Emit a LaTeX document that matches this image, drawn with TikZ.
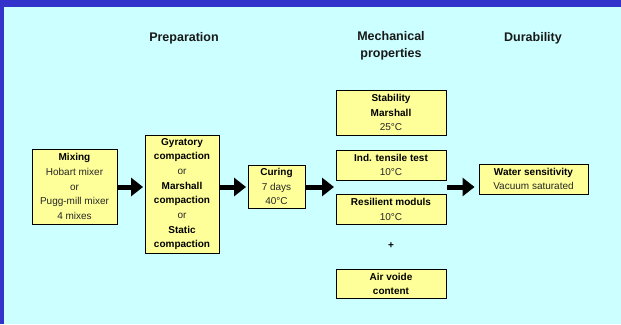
\documentclass[tikz,border=0pt]{standalone}
\usepackage{fontspec}
\setmainfont{Liberation Sans}
\usetikzlibrary{arrows.meta}
\definecolor{bgcyan}{HTML}{CCFFFF}
\definecolor{frameblue}{HTML}{3333CC}
\definecolor{boxyellow}{HTML}{FFFF99}
\definecolor{txtgray}{HTML}{262626}
\tikzset{
  box/.style={draw=black, line width=0.9pt, fill=boxyellow, align=center,
    inner sep=0pt, font=\fontsize{10}{14.7}\selectfont, text=txtgray},
  header/.style={font=\fontsize{12.5}{17}\selectfont\bfseries, align=center, text=black!90},
  bigarrow/.style={line width=5pt, -{Triangle[length=12pt,width=18pt]}, black}
}
\newcommand{\bl}[1]{\textbf{\color{black}#1}}
\begin{document}
\begin{tikzpicture}[x=1pt,y=-1pt]
\useasboundingbox (0,0) rectangle (621,324);
\fill[bgcyan] (0,0) rectangle (621,324);
\fill[frameblue] (0,0) rectangle (621,7);
\fill[frameblue] (0,0) rectangle (4,324);

\node[header] (hprep) at (184,38) {Preparation};
\node[header] (hmech) at (391,46) {Mechanical\\properties};
\node[header] (hdur) at (533,38) {Durability};

\node[box, minimum width=85pt, minimum height=75pt] (mix) at (74.5,186.5)
  {\bl{Mixing}\\Hobart mixer\\or\\Pugg-mill mixer\\4 mixes};
\node[box, minimum width=74pt, minimum height=118pt] (comp) at (182,194)
  {\bl{Gyratory}\\\bl{compaction}\\or\\\bl{Marshall}\\\bl{compaction}\\or\\\bl{Static}\\\bl{compaction}};
\node[box, minimum width=57pt, minimum height=43pt] (cur) at (276.5,186.5)
  {\bl{Curing}\\7 days\\40°C};
\node[box, minimum width=110pt, minimum height=45pt] (stab) at (391,112.5)
  {\bl{Stability}\\\bl{Marshall}\\25°C};
\node[box, minimum width=110pt, minimum height=30pt] (ind) at (391,165)
  {\bl{Ind. tensile test}\\10°C};
\node[box, minimum width=110pt, minimum height=30pt] (res) at (391,209.5)
  {\bl{Resilient moduls}\\10°C};
\node[font=\fontsize{10}{12}\selectfont\bfseries] (plus) at (391,246) {+};
\node[box, minimum width=110pt, minimum height=29pt] (air) at (391,284)
  {\bl{Air voide}\\\bl{content}};
\node[box, minimum width=109pt, minimum height=30pt] (water) at (533.5,179)
  {\bl{Water sensitivity}\\Vacuum saturated};

\coordinate (m1) at (334,187);
\coordinate (m2) at (447,187);

\draw[bigarrow] (mix.east |- 0,187) -- ([xshift=-1.5pt]comp.west |- 0,187);
\draw[bigarrow] (comp.east |- 0,187) -- ([xshift=-1.5pt]cur.west |- 0,187);
\draw[bigarrow] (cur.east |- 0,187) -- (m1);
\draw[bigarrow] (m2) -- ([xshift=-4pt]water.west |- 0,187);
\end{tikzpicture}
\end{document}
